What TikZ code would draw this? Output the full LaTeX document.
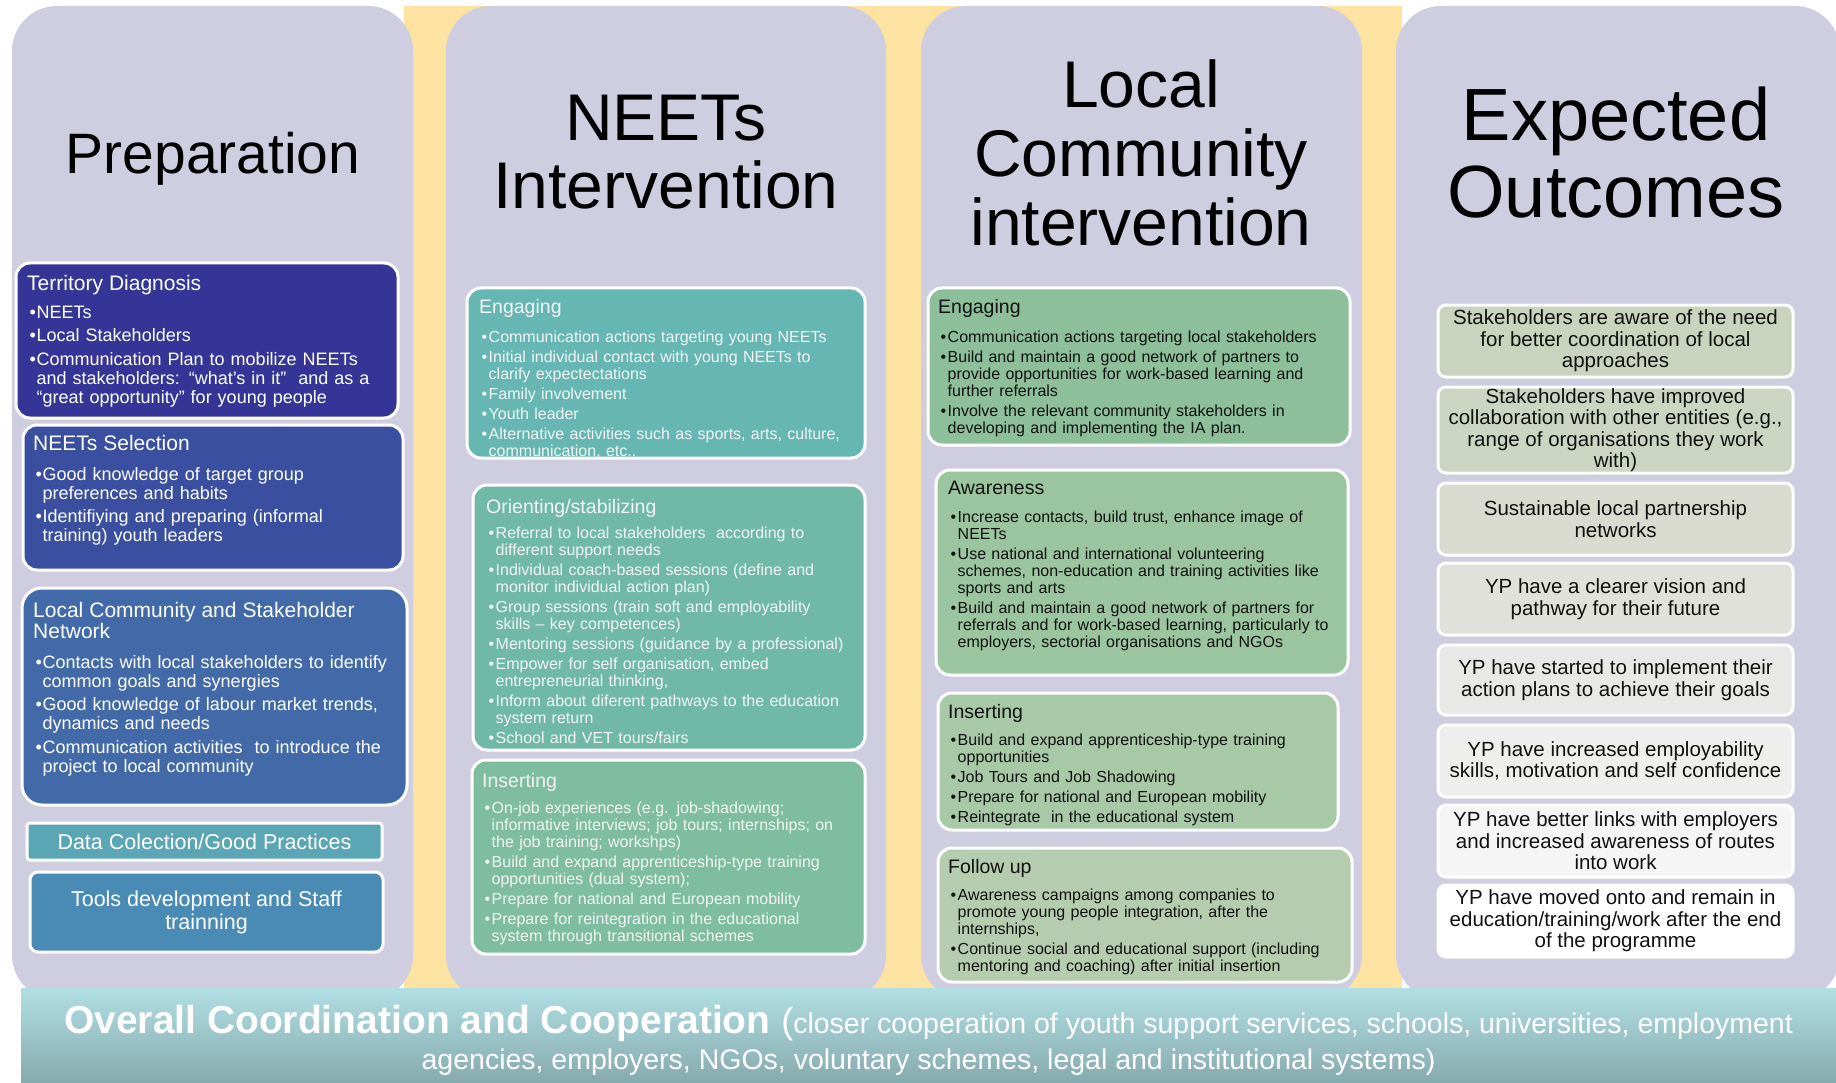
\documentclass[tikz,border=0pt]{standalone}
\usepackage{fontspec}
\setmainfont{Liberation Sans}

% column and box colours
\definecolor{stagebg}{HTML}{CFCEE1}
\definecolor{stripbg}{HTML}{FCE3A1}
\definecolor{diagblue}{HTML}{353597}
\definecolor{selblue}{HTML}{3B4FA0}
\definecolor{netblue}{HTML}{426AA8}
\definecolor{datateal}{HTML}{5BA6B5}
\definecolor{toolblue}{HTML}{4A8BB5}
\definecolor{neetone}{HTML}{66B7B3}
\definecolor{neettwo}{HTML}{71B9A7}
\definecolor{neetthree}{HTML}{7EBD9F}
\definecolor{commone}{HTML}{8CBF9A}
\definecolor{commtwo}{HTML}{9BC59E}
\definecolor{commthree}{HTML}{A7C9A6}
\definecolor{commfour}{HTML}{B6CCAF}
\definecolor{outone}{HTML}{C9D3BE}
\definecolor{outtwo}{HTML}{CCD4C2}
\definecolor{outthree}{HTML}{D9DBD0}
\definecolor{outfour}{HTML}{E1E1DB}
\definecolor{outfive}{HTML}{E8E8E6}
\definecolor{outsix}{HTML}{EEEEED}
\definecolor{outseven}{HTML}{F5F5F5}
\definecolor{outeight}{HTML}{FFFFFF}
\definecolor{coordtop}{HTML}{B1DFE4}
\definecolor{coordbot}{HTML}{86AAAD}
\definecolor{ink}{HTML}{111111}
\definecolor{paper}{HTML}{F2F5F4}

% bullet lists inside the boxes
\newlength\bulind \setlength\bulind{2.5pt}
\newlength\bulw \setlength\bulw{7pt}
\newcommand\itemgap{3pt}
\newcommand\headsize{19.5}
\newcommand\headgap{7pt}
\newcommand\boxhead[2][\headgap]{{\noindent\fontsize{\headsize}{21}\selectfont #2\par}\vspace{#1}}
\newcommand\itm[1]{\par\vspace{\itemgap}{\leftskip=\dimexpr\bulind+\bulw\relax
  \noindent\llap{\makebox[\bulw][l]{\textbullet}}#1\par}}

\tikzset{
  stage/.style={fill=stagebg, rounded corners=45pt},
  cell/.style={draw=white, line width=3pt, rounded corners=14pt, inner sep=0pt, outer sep=0pt, anchor=north west},
  prep text/.style={anchor=north west, inner sep=0pt, text width=370pt, text=white,
    font=\fontsize{18}{19}\selectfont\def\itemgap{4.5pt}\def\headsize{21}\def\headgap{5.5pt}},
  neet text/.style={anchor=north west, inner sep=0pt, text width=385pt, text=paper,
    font=\fontsize{16}{17}\selectfont},
  comm text/.style={neet text, text width=400pt, text=ink},
  outcome/.style={cell, anchor=center, rounded corners=8pt, minimum width=355pt, minimum height=#1,
    align=center, text=ink, font=\fontsize{20.5}{21.5}\selectfont},
  stage title/.style={anchor=north, inner sep=0pt, align=center, text=black},
}

\begin{document}
\begin{tikzpicture}[x=1pt,y=-1pt]
\useasboundingbox (0,0) rectangle (1836,1083);
\fill[white] (0,0) rectangle (1836,1083);

% background strip and the four columns
\fill[stripbg] (404,6) rectangle (1402,1000);
\fill[stage] (12,6) rectangle (413,1000);
\fill[stage] (446,6) rectangle (886,1000);
\fill[stage] (921,6) rectangle (1362,1000);
\fill[stage] (1396,6) rectangle (1840,1000);

\node[stage title, font=\fontsize{57}{60}\selectfont] (prephead) at (213,132) {Preparation};
\node[stage title, font=\fontsize{66}{68}\selectfont] (neethead) at (666,94.5) {NEETs\\Intervention};
\node[stage title, font=\fontsize{66}{69}\selectfont] (commhead) at (1141,59.5) {Local\\Community\\intervention};
\node[stage title, font=\fontsize{74}{77}\selectfont] (outhead) at (1616,86.7) {Expected\\Outcomes};

% preparation
\node[cell, fill=diagblue, minimum width=382pt, minimum height=155pt] (diag) at (16,263) {};
\node[prep text] (diagtext) at ([shift={(11,11.9)}]diag.north west) {\boxhead[4.5pt]{Territory Diagnosis}
  \itm{NEETs}
  \itm{Local Stakeholders}
  \itm{Communication Plan to mobilize NEETs\\and stakeholders: “what’s in it”~ and as a\\“great opportunity” for young people}};

\node[cell, fill=selblue, minimum width=380pt, minimum height=145pt] (select) at (23,425) {};
\node[prep text] (selecttext) at ([shift={(10,9.9)}]select.north west) {\boxhead[6.5pt]{NEETs Selection}
  \itm{Good knowledge of target group\\preferences and habits}
  \itm{Identifiying and preparing (informal\\training) youth leaders}};

\node[cell, fill=netblue, rounded corners=20pt, minimum width=385pt, minimum height=217pt] (network) at (22,588) {};
\node[prep text] (networktext) at ([shift={(11,13.9)}]network.north west) {\boxhead[6.5pt]{Local Community and Stakeholder\\Network}
  \itm{Contacts with local stakeholders to identify\\common goals and synergies}
  \itm{Good knowledge of labour market trends,\\dynamics and needs}
  \itm{Communication activities~ to introduce the\\project to local community}};

\node[cell, anchor=center, fill=datateal, rounded corners=3pt, minimum width=355pt, minimum height=37pt,
  text=white, font=\fontsize{21.5}{23}\selectfont] (datacol) at (204.5,841.5) {Data Colection/Good Practices};
\node[cell, anchor=center, fill=toolblue, rounded corners=8pt, minimum width=353pt, minimum height=80pt,
  align=center, text=white, font=\fontsize{21.5}{23}\selectfont] (tools) at (206.5,912) {Tools development and Staff\\trainning};

% NEETs intervention
\node[cell, fill=neetone, minimum width=398pt, minimum height=170pt] (nengage) at (467,288) {};
\begin{scope}
\clip[rounded corners=14pt] (nengage.north west) rectangle (nengage.south east);
\node[neet text] (nengagetext) at ([shift={(12,11)}]nengage.north west) {\boxhead[9pt]{Engaging}
  \itm{Communication actions targeting young NEETs}
  \itm{Initial individual contact with young NEETs to\\clarify expectectations}
  \itm{Family involvement}
  \itm{Youth leader}
  \itm{Alternative activities such as sports, arts, culture,\\communication, etc..}};
\end{scope}

\node[cell, fill=neettwo, minimum width=392pt, minimum height=265pt] (norient) at (473,485) {};
\node[neet text] (norienttext) at ([shift={(13,14)}]norient.north west) {\boxhead[5pt]{Orienting/stabilizing}
  \itm{Referral to local stakeholders~ according to\\different support needs}
  \itm{Individual coach-based sessions (define and\\monitor individual action plan)}
  \itm{Group sessions (train soft and employability\\skills – key competences)}
  \itm{Mentoring sessions (guidance by a professional)}
  \itm{Empower for self organisation, embed\\entrepreneurial thinking,}
  \itm{Inform about diferent pathways to the education\\system return}
  \itm{School and VET tours/fairs}};

\node[cell, fill=neetthree, minimum width=393pt, minimum height=194pt] (ninsert) at (472,760) {};
\node[neet text] (ninserttext) at ([shift={(10,13)}]ninsert.north west) {\boxhead[6pt]{Inserting}
  \itm{On-job experiences (e.g. job-shadowing;\\informative interviews; job tours; internships; on\\the job training; workshps)}
  \itm{Build and expand apprenticeship-type training\\opportunities (dual system);}
  \itm{Prepare for national and European mobility}
  \itm{Prepare for reintegration in the educational\\system through transitional schemes}};

% local community intervention
\node[cell, fill=commone, minimum width=422pt, minimum height=157pt] (cengage) at (928,288) {};
\node[comm text] (cengagetext) at ([shift={(10,11)}]cengage.north west) {\boxhead[9pt]{Engaging}
  \itm{Communication actions targeting local stakeholders}
  \itm{Build and maintain a good network of partners to\\provide opportunities for work-based learning and\\further referrals}
  \itm{Involve the relevant community stakeholders in\\developing and implementing the IA plan.}};

\node[cell, fill=commtwo, minimum width=412pt, minimum height=205pt] (caware) at (936,470) {};
\node[comm text] (cawaretext) at ([shift={(12,11)}]caware.north west) {\boxhead[8pt]{Awareness}
  \itm{Increase contacts, build trust, enhance image of\\NEETs}
  \itm{Use national and international volunteering\\schemes, non-education and training activities like\\sports and arts}
  \itm{Build and maintain a good network of partners for\\referrals and for work-based learning, particularly to\\employers, sectorial organisations and NGOs}};

\node[cell, fill=commthree, minimum width=400pt, minimum height=137pt] (cinsert) at (938,693) {};
\node[comm text] (cinserttext) at ([shift={(10,11)}]cinsert.north west) {\boxhead{Inserting}
  \itm{Build and expand apprenticeship-type training\\opportunities}
  \itm{Job Tours and Job Shadowing}
  \itm{Prepare for national and European mobility}
  \itm{Reintegrate~ in the educational system}};

\node[cell, fill=commfour, minimum width=414pt, minimum height=134pt] (cfollow) at (938,848) {};
\node[comm text] (cfollowtext) at ([shift={(10,11)}]cfollow.north west) {\boxhead{Follow up}
  \itm{Awareness campaigns among companies to\\promote young people integration, after the\\internships,}
  \itm{Continue social and educational support (including\\mentoring and coaching) after initial insertion}};

% expected outcomes
\node[outcome=72pt, fill=outone] (out1) at (1615.5,341) {Stakeholders are aware of the need\\for better coordination of local\\approaches};
\node[outcome=86pt, fill=outtwo] (out2) at (1615.5,430) {Stakeholders have improved\\collaboration with other entities (e.g.,\\range of organisations they work\\with)};
\node[outcome=72pt, fill=outthree] (out3) at (1615.5,519) {Sustainable local partnership\\networks};
\node[outcome=72pt, fill=outfour] (out4) at (1615.5,599) {YP have a clearer vision and\\pathway for their future};
\node[outcome=70pt, fill=outfive] (out5) at (1615.5,680) {YP have started to implement their\\action plans to achieve their goals};
\node[outcome=72pt, fill=outsix] (out6) at (1615.5,761) {YP have increased employability\\skills, motivation and self confidence};
\node[outcome=72pt, fill=outseven] (out7) at (1615.5,841) {YP have better links with employers\\and increased awareness of routes\\into work};
\node[outcome=72pt, fill=outeight] (out8) at (1615.5,921) {YP have moved onto and remain in\\education/training/work after the end\\of the programme};

% coordination band along the bottom
\shade[top color=coordtop, bottom color=coordbot] (21,988) rectangle (1836,1083);
\node[anchor=north, inner sep=0pt, align=center, text=white, font=\fontsize{28.5}{36}\selectfont] (coord) at (928.5,1005)
  {{\bfseries\fontsize{39}{39}\selectfont Overall Coordination and Cooperation }{\fontsize{36}{36}\selectfont(}closer cooperation of youth support services, schools, universities, employment\\agencies, employers, NGOs, voluntary schemes, legal and institutional systems)};
\end{tikzpicture}
\end{document}
